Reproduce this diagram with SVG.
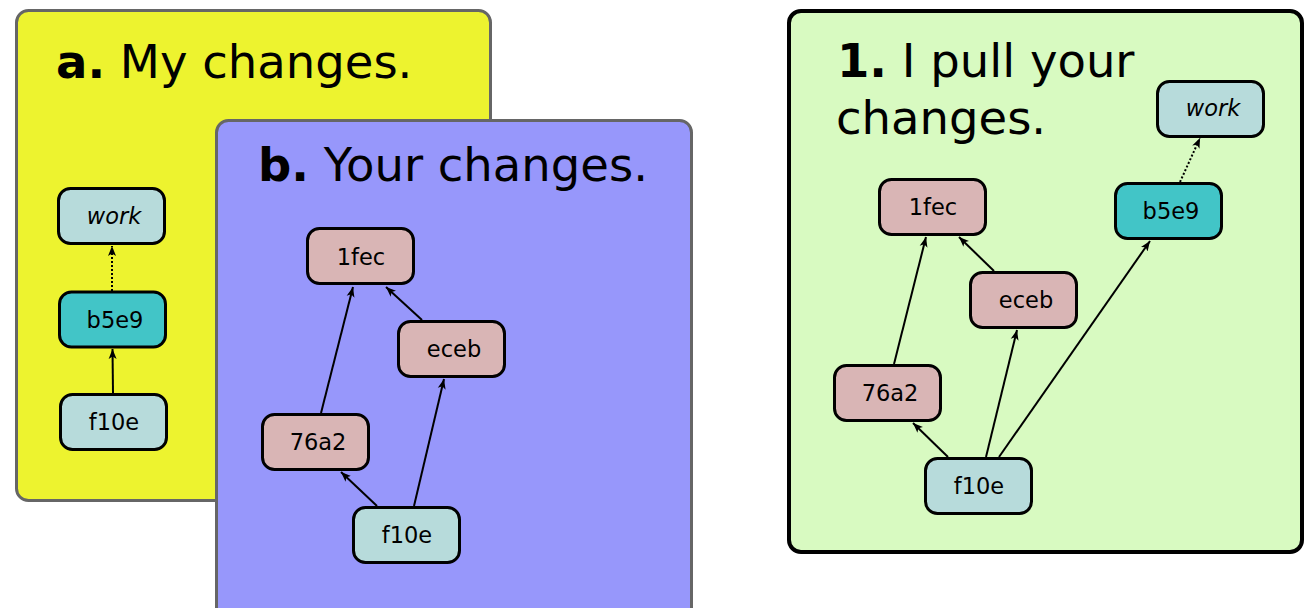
<svg xmlns="http://www.w3.org/2000/svg" width="1306" height="608" viewBox="0 0 1306 608">
<style>
.title{font-family:"DejaVu Sans","Liberation Sans",sans-serif;font-size:46.5px;fill:#000}
.title .b{font-weight:bold}
.node rect{stroke:#000;stroke-width:3}
.node text{font-family:"DejaVu Sans","Liberation Sans",sans-serif;font-size:22.5px;fill:#000;text-anchor:middle}
.node text.it{font-style:italic}
.plain rect{fill:#b7dbdb}
.head rect{fill:#42c5c7}
.theirs rect{fill:#d9b5b5}
.edge{stroke:#000;stroke-width:2;fill:none;marker-end:url(#arr)}
.dot{stroke-dasharray:2,2}
</style>
<defs>
<marker id="arr" viewBox="0 -5 11 10" refX="10" refY="0" markerWidth="11" markerHeight="10" markerUnits="userSpaceOnUse" orient="auto">
<path d="M0,-4 L10,0 L0,4 L2.5,0 z" fill="#000"/>
</marker>
</defs>

<!-- Panel a -->
<g id="panel-a">
<rect x="16.5" y="10.5" width="474" height="490" rx="12" fill="#edf32f" stroke="#666" stroke-width="3"/>
<text class="title" x="56" y="78"><tspan class="b">a.</tspan> My changes.</text>
<g id="a-work" class="node plain"><rect x="58.5" y="188.5" width="106" height="55" rx="12"/><text class="it" x="114" y="224">work</text></g>
<g id="a-b5e9" class="node head"><rect x="59.5" y="292" width="106" height="55" rx="12"/><text x="115" y="328">b5e9</text></g>
<g id="a-f10e" class="node plain"><rect x="60.5" y="394.5" width="106" height="55" rx="12"/><text x="114" y="430">f10e</text></g>
<g id="a-edges">
<line class="edge" x1="113" y1="393" x2="112.5" y2="349"/>
<line class="edge dot" x1="112" y1="291" x2="112" y2="246"/>
</g>
</g>

<!-- Panel b -->
<g id="panel-b">
<rect x="216.5" y="120.5" width="475" height="500" rx="12" fill="#9797fb" stroke="#666" stroke-width="3"/>
<text class="title" x="258" y="181"><tspan class="b">b.</tspan> Your changes.</text>
<g id="b-1fec" class="node theirs"><rect x="307.5" y="228.5" width="106" height="55" rx="12"/><text x="361" y="265">1fec</text></g>
<g id="b-eceb" class="node theirs"><rect x="398.5" y="321.5" width="106" height="55" rx="12"/><text x="454" y="357">eceb</text></g>
<g id="b-76a2" class="node theirs"><rect x="262.5" y="414.5" width="106" height="55" rx="12"/><text x="318" y="450">76a2</text></g>
<g id="b-f10e" class="node plain"><rect x="353.5" y="507.5" width="106" height="55" rx="12"/><text x="407" y="543">f10e</text></g>
<g id="b-edges">
<line class="edge" x1="321" y1="413" x2="353" y2="287"/>
<line class="edge" x1="422" y1="320" x2="386" y2="287"/>
<line class="edge" x1="377" y1="506" x2="341" y2="472"/>
<line class="edge" x1="414" y1="506" x2="444" y2="379"/>
</g>
</g>

<!-- Panel 1 -->
<g id="panel-1">
<rect x="789" y="11" width="513" height="541" rx="12" fill="#d8fac1" stroke="#000" stroke-width="4"/>
<text class="title" x="837" y="77"><tspan class="b">1.</tspan> I pull your</text>
<text class="title" x="836" y="134">changes.</text>
<g id="c-1fec" class="node theirs"><rect x="879.5" y="179.5" width="106" height="55" rx="12"/><text x="933" y="215">1fec</text></g>
<g id="c-eceb" class="node theirs"><rect x="970.5" y="272.5" width="106" height="55" rx="12"/><text x="1026" y="308">eceb</text></g>
<g id="c-76a2" class="node theirs"><rect x="834.5" y="365.5" width="106" height="55" rx="12"/><text x="890" y="401">76a2</text></g>
<g id="c-f10e" class="node plain"><rect x="925.5" y="458.5" width="106" height="55" rx="12"/><text x="979" y="494">f10e</text></g>
<g id="c-b5e9" class="node head"><rect x="1115.5" y="183.5" width="106" height="55" rx="12"/><text x="1171" y="219">b5e9</text></g>
<g id="c-work" class="node plain"><rect x="1157.5" y="81.5" width="106" height="55" rx="12"/><text class="it" x="1213" y="116">work</text></g>
<g id="c-edges">
<line class="edge" x1="894" y1="364" x2="926" y2="237"/>
<line class="edge" x1="994" y1="271" x2="959" y2="237"/>
<line class="edge" x1="948" y1="457" x2="913" y2="423"/>
<line class="edge" x1="986" y1="457" x2="1017" y2="330"/>
<line class="edge" x1="999" y1="457" x2="1150" y2="241"/>
<line class="edge dot" x1="1180" y1="182" x2="1200" y2="138"/>
</g>
</g>
</svg>
